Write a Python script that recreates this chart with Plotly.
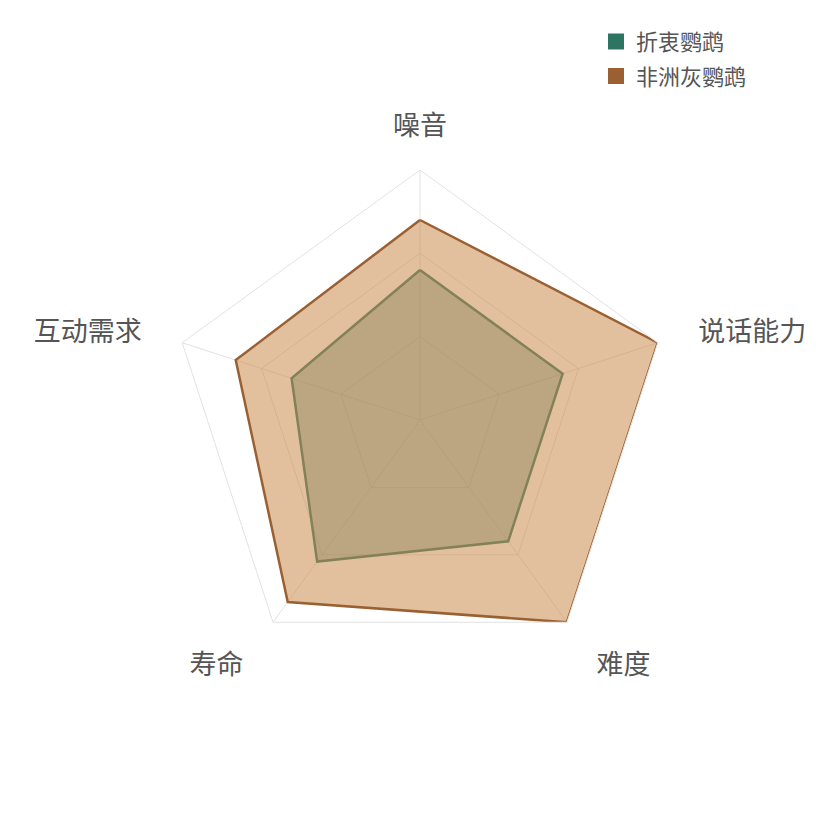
import plotly.graph_objects as go

categories = ['噪音', '说话能力', '难度', '寿命', '互动需求']
# axis names, padded with no-break spaces on the outer side
axis_names = ['噪音', '\u00a0\u00a0说话能力', '\u00a0\u00a0难度', '寿命\u00a0\u00a0', '互动需求\u00a0\u00a0']
series_names = ['折衷鹦鹉', '非洲灰鹦鹉']
eclectus = [6, 6, 6, 7, 5.4]
african_grey = [8, 10, 10, 9, 7.75]
grid_levels = [10 / 3, 20 / 3, 10]

green = '#2e7463'
brown = '#9a6032'

fig = go.Figure()

# green first so the brown fill lies over it
fig.add_trace(go.Scatterpolar(
    r=eclectus + eclectus[:1], theta=categories + categories[:1],
    mode='lines', fill='toself', fillcolor='rgba(46,112,96,0.4)',
    line=dict(color=green, width=2.5), showlegend=False, name=series_names[0]))
fig.add_trace(go.Scatterpolar(
    r=african_grey + african_grey[:1], theta=categories + categories[:1],
    mode='lines', fill='toself', fillcolor='rgba(202,140,79,0.55)',
    line=dict(color=brown, width=2.5), showlegend=False, name=series_names[1]))

# legend entries with square markers
for name, col in zip(series_names, [green, brown]):
    fig.add_trace(go.Scatterpolar(
        r=[None], theta=[categories[0]], mode='markers', name=name,
        legendgroup=name,
        marker=dict(symbol='square', size=16, color=col)))

fig.update_layout(
    width=840, height=840,
    margin=dict(l=0, r=0, t=0, b=0),
    paper_bgcolor='white',
    font=dict(family='Noto Sans CJK SC', color='#555555'),
    polar=dict(
        domain=dict(x=[162 / 840, 662 / 840], y=[178 / 840, 678 / 840]),
        bgcolor='white',
        gridshape='linear',
        radialaxis=dict(range=[0, 10], tickvals=grid_levels, showticklabels=False,
                        ticks='', showline=False, gridcolor='#e2e2e2', gridwidth=1),
        angularaxis=dict(rotation=90, direction='clockwise',
                         tickvals=categories, ticktext=axis_names,
                         showline=True, linecolor='#e2e2e2', linewidth=1,
                         gridcolor='#e2e2e2', ticks='outside', ticklen=24,
                         tickcolor='rgba(0,0,0,0)',
                         tickfont=dict(size=27, color='#555555')),
    ),
    legend=dict(x=0.70, y=0.985, xanchor='left', yanchor='top',
                traceorder='grouped', tracegroupgap=3,
                font=dict(size=22, color='#555555'),
                bgcolor='rgba(0,0,0,0)'),
)

fig.write_html('out.html')
